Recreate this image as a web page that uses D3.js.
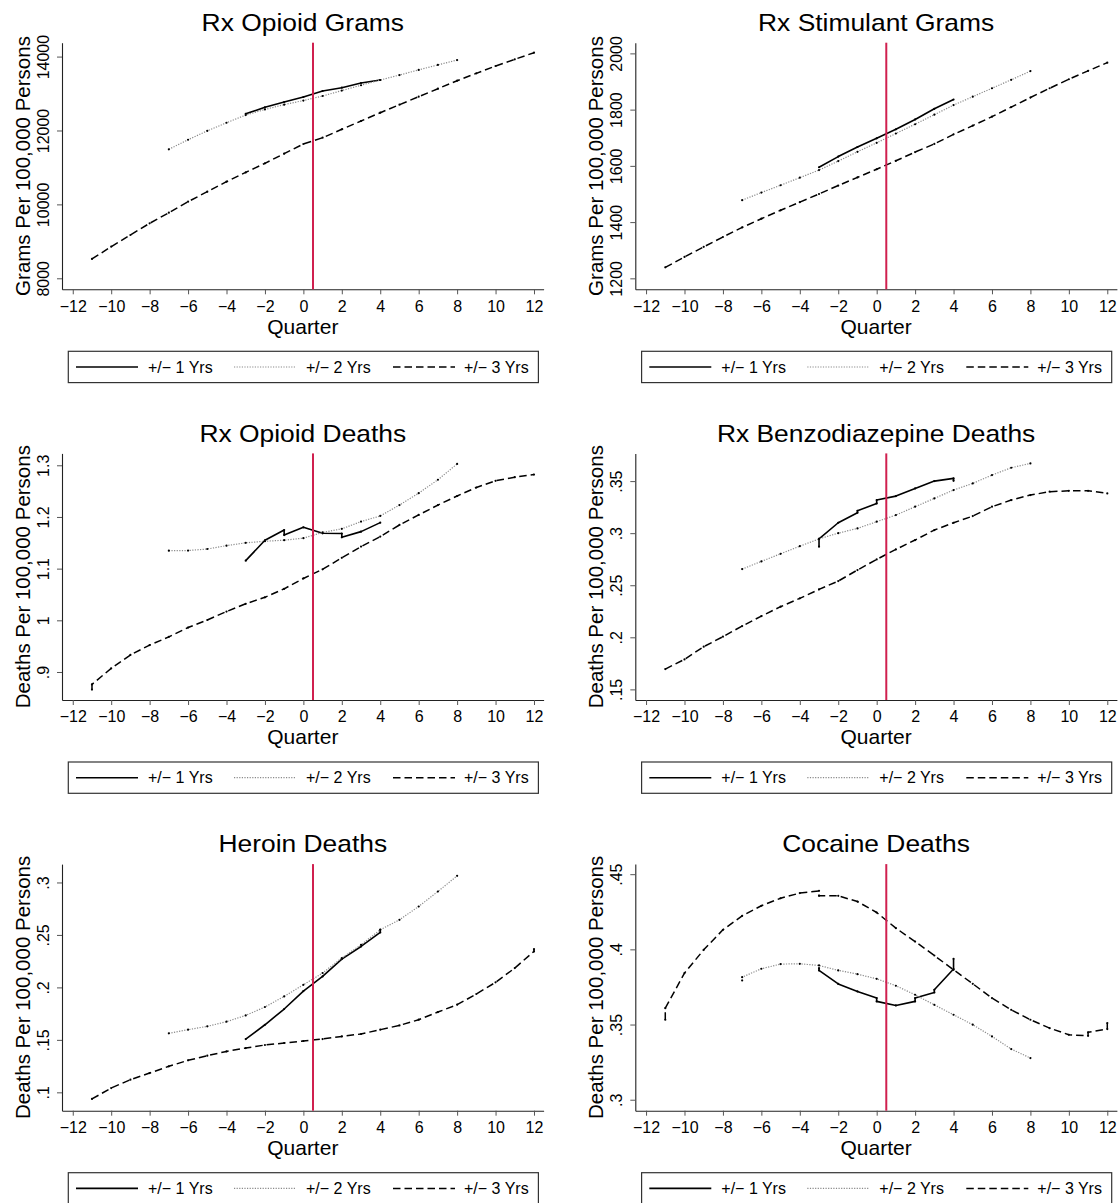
<!DOCTYPE html>
<html>
<head>
<meta charset="utf-8">
<script src="https://cdn.jsdelivr.net/npm/d3@7"></script>
<style>
  html, body { margin: 0; padding: 0; background: #fff; }
  svg { display: block; font-family: "Liberation Sans", Arial, Helvetica, sans-serif; }
</style>
</head>
<body>
<svg id="chart" width="1119" height="1203"></svg>
<script>
// ---------------- DATA ----------------
const quarters1 = [-3, -2, -1, 0, 1, 2, 3, 4];
const quarters2 = [-7, -6, -5, -4, -3, -2, -1, 0, 1, 2, 3, 4, 5, 6, 7, 8];
const quarters3 = [-11, -10, -9, -8, -7, -6, -5, -4, -3, -2, -1, 0, 1, 2, 3, 4, 5, 6, 7, 8, 9, 10, 11, 12];
const xTicks = [-12, -10, -8, -6, -4, -2, 0, 2, 4, 6, 8, 10, 12];
const cutoff = 0.5;

const seriesNames = ["+/\u2212 1 Yrs", "+/\u2212 2 Yrs", "+/\u2212 3 Yrs"];

const panelTitles = ["Rx Opioid Grams", "Rx Stimulant Grams", "Rx Opioid Deaths",
                     "Rx Benzodiazepine Deaths", "Heroin Deaths", "Cocaine Deaths"];
const yTitles = ["Grams Per 100,000 Persons", "Grams Per 100,000 Persons",
                 "Deaths Per 100,000 Persons", "Deaths Per 100,000 Persons",
                 "Deaths Per 100,000 Persons", "Deaths Per 100,000 Persons"];

// y axis ranges (bottom, top of the plotted axis)
const yRanges = [[7702, 14376], [1161, 2038], [0.8458, 1.323],
                 [0.1398, 0.3766], [0.0825, 0.3175], [0.2927, 0.4567]];
const yTickValues = [[8000, 10000, 12000, 14000], [1200, 1400, 1600, 1800, 2000],
                     [0.9, 1, 1.1, 1.2, 1.3], [0.15, 0.2, 0.25, 0.3, 0.35],
                     [0.1, 0.15, 0.2, 0.25, 0.3], [0.3, 0.35, 0.4, 0.45]];
const yTickLabels = [["8000", "10000", "12000", "14000"], ["1200", "1400", "1600", "1800", "2000"],
                     [".9", "1", "1.1", "1.2", "1.3"], [".15", ".2", ".25", ".3", ".35"],
                     [".1", ".15", ".2", ".25", ".3"], [".3", ".35", ".4", ".45"]];

// values per quarter; a pair [a, b] marks a small vertical jump at that quarter
const opioidGrams1 = [12450, 12627, 12771, 12906, 13069, 13158, 13285, 13366];
const opioidGrams2 = [11491, 11750, 11990, 12210, 12418, 12570, 12700, 12810, 12933, 13080, 13225, 13366, 13500, 13640, 13775, 13907];
const opioidGrams3 = [8523, 8855, 9172, 9488, 9775, 10073, 10344, 10614, 10866, 11112, 11372, 11634, 11805, 12032, 12257, 12481, 12698, 12914, 13131, 13347, 13547, 13745, 13926, 14105];

const stimGrams1 = [1595, 1633, 1667, 1698, 1730, 1765, 1803, 1836];
const stimGrams2 = [1478, 1505, 1531, 1558, 1585, 1617, 1650, 1682, 1715, 1748, 1782, 1816, 1846, 1876, 1906, 1937];
const stimGrams3 = [1239, 1276, 1312, 1347, 1381, 1412, 1442, 1471, 1500, 1530, 1559, 1588, 1618, 1649, 1678, 1712, 1743, 1775, 1809, 1843, 1876, 1908, 1938, 1967];

const opioidDeaths1 = [1.1155, 1.1548, [1.1748, 1.165], 1.18, 1.1684, [1.168, 1.1606], 1.1716, 1.189];
const opioidDeaths2 = [1.1348, 1.135, 1.138, 1.1445, 1.150, 1.153, 1.155, 1.159, 1.170, 1.177, 1.191, 1.202, 1.223, 1.246, 1.272, 1.3026];
const opioidDeaths3 = [[0.866, 0.876], 0.907, 0.933, 0.952, 0.968, 0.986, 1.0006, 1.017, 1.032, 1.0445, 1.061, 1.081, 1.0987, 1.121, 1.1426, 1.162, 1.1845, 1.204, 1.223, 1.2406, 1.257, 1.270, 1.277, 1.282];

const benzoDeaths1 = [[0.287, 0.2945], 0.310, [0.3196, 0.3215], [0.3286, 0.3318], 0.3356, 0.343, 0.350, [0.3526, 0.3503]];
const benzoDeaths2 = [0.2655, 0.2729, 0.2802, 0.2875, 0.2945, 0.300, 0.3046, 0.311, 0.3174, 0.3254, 0.3334, 0.3414, 0.3478, 0.3558, 0.3628, 0.367];
const benzoDeaths3 = [0.1695, 0.1788, 0.191, 0.2006, 0.2108, 0.2204, 0.2294, 0.2374, 0.246, 0.254, 0.2646, 0.2748, 0.2844, 0.2934, 0.303, 0.310, 0.3164, 0.3254, 0.3318, 0.3366, 0.3398, 0.3407, 0.3407, 0.3382];

const heroinDeaths1 = [0.1508, 0.1644, 0.1794, 0.1965, 0.2105, 0.227, 0.239, [0.2524, 0.255]];
const heroinDeaths2 = [0.1562, 0.1597, 0.1629, 0.1673, 0.1733, 0.1813, 0.1914, 0.2025, 0.2137, 0.228, 0.2406, 0.2549, 0.2644, 0.2771, 0.2914, 0.3063];
const heroinDeaths3 = [0.0937, 0.1041, 0.1121, 0.1184, 0.1248, 0.1305, 0.1349, 0.139, 0.1422, 0.1451, 0.147, 0.1489, 0.1508, 0.1533, 0.1556, 0.1597, 0.1638, 0.1692, 0.1765, 0.1835, 0.1937, 0.2048, 0.2184, [0.2343, 0.2365]];

const cocaineDeaths1 = [[0.3875, 0.386], 0.377, 0.372, [0.3676, 0.3654], 0.3627, [0.3654, 0.3676], [0.3713, 0.3731], [0.3869, 0.3937]];
const cocaineDeaths2 = [[0.3793, 0.3815], 0.3871, 0.3902, 0.3904, 0.3893, 0.386, 0.3835, 0.3804, 0.3758, 0.3698, 0.3631, 0.3565, 0.3499, 0.3421, 0.3337, 0.3277];
const cocaineDeaths3 = [[0.3532, 0.3609], 0.3842, 0.3997, 0.413, 0.4223, 0.429, 0.434, 0.4374, [0.4389, 0.4356], 0.4356, 0.4318, 0.4245, 0.4141, 0.4052, 0.3959, 0.3864, 0.3771, 0.3676, 0.3598, 0.3532, 0.3476, 0.3432, [0.3425, 0.3448], [0.347, 0.351]];

const panelSeries = [
  [opioidGrams1, opioidGrams2, opioidGrams3],
  [stimGrams1, stimGrams2, stimGrams3],
  [opioidDeaths1, opioidDeaths2, opioidDeaths3],
  [benzoDeaths1, benzoDeaths2, benzoDeaths3],
  [heroinDeaths1, heroinDeaths2, heroinDeaths3],
  [cocaineDeaths1, cocaineDeaths2, cocaineDeaths3]
];
const seriesQuarters = [quarters1, quarters2, quarters3];

// ---------------- LAYOUT / STYLE ----------------
const colW = 573.3, rowH = 410.7;
const plot = { left: 62, right: 543.6, top: 42.7, bottom: 289.3 };
const xDomain = [-12.56, 12.5];
const cx = (plot.left + plot.right) / 2;
const FONT = '"Liberation Sans", Arial, Helvetica, sans-serif';
const styles = [
  { stroke: "#000", width: 1.6, dash: null },
  { stroke: "#8a8a8a", width: 1.2, dash: "1.2,1.4" },
  { stroke: "#000", width: 1.5, dash: "7.5,4" }
];
const redColor = "#d0204f";

const svg = d3.select("#chart");
svg.append("rect").attr("width", 1119).attr("height", 1203).attr("fill", "#fff");

const x = d3.scaleLinear().domain(xDomain).range([plot.left, plot.right]);

function expand(quarters, vals) {
  const pts = [];
  quarters.forEach((q, i) => {
    const v = vals[i];
    if (Array.isArray(v)) { pts.push([q, v[0]]); pts.push([q, v[1]]); }
    else pts.push([q, v]);
  });
  return pts;
}

panelTitles.forEach((title, i) => {
  const c = i % 2, r = Math.floor(i / 2);
  const g = svg.append("g").attr("transform", `translate(${c * colW},${r * rowH})`);
  const y = d3.scaleLinear().domain(yRanges[i]).range([plot.bottom, plot.top]);

  // title
  g.append("text")
    .attr("transform", `translate(${cx},31) scale(1.1,1)`)
    .attr("text-anchor", "middle").attr("font-size", 24).attr("fill", "#000")
    .text(title);

  // x axis
  const xa = g.append("g").attr("transform", `translate(0,${plot.bottom})`)
    .call(d3.axisBottom(x).tickValues(xTicks).tickSize(5).tickSizeOuter(0)
      .tickFormat(d => d < 0 ? "\u2212" + Math.abs(d) : String(d)));
  xa.select(".domain").attr("stroke", "#222").attr("stroke-width", 1.1);
  xa.selectAll(".tick line").attr("stroke", "#555");
  xa.selectAll(".tick text").attr("y", 22.3).attr("dy", null)
    .attr("font-size", 16).attr("font-family", FONT).attr("fill", "#000");

  // y axis
  const labels = yTickLabels[i];
  const ya = g.append("g").attr("transform", `translate(${plot.left},0)`)
    .call(d3.axisLeft(y).tickValues(yTickValues[i]).tickSize(5).tickSizeOuter(0)
      .tickFormat((d, k) => labels[k]));
  ya.select(".domain").attr("stroke", "#222").attr("stroke-width", 1.1);
  ya.selectAll(".tick line").attr("stroke", "#555");
  ya.selectAll(".tick text").attr("x", null).attr("dy", null)
    .attr("text-anchor", "middle").attr("transform", "translate(-13.5,0) rotate(-90)")
    .attr("font-size", 16).attr("font-family", FONT).attr("fill", "#000");

  // axis titles
  g.append("text").attr("x", cx).attr("y", 333.5).attr("text-anchor", "middle")
    .attr("font-size", 21).attr("fill", "#000").text("Quarter");
  g.append("text").attr("transform", `translate(29.5,${(plot.top + plot.bottom) / 2}) rotate(-90)`)
    .attr("text-anchor", "middle").attr("font-size", 20.5).attr("fill", "#000").text(yTitles[i]);

  // series
  const line = d3.line().x(d => x(d[0])).y(d => y(d[1]));
  panelSeries[i].forEach((vals, s) => {
    const pts = expand(seriesQuarters[s], vals);
    const st = styles[s];
    g.append("path").attr("d", line(pts)).attr("fill", "none")
      .attr("stroke", st.stroke).attr("stroke-width", st.width)
      .attr("stroke-dasharray", st.dash).attr("stroke-linejoin", "round");
    g.append("g").selectAll("circle").data(pts).join("circle")
      .attr("cx", d => x(d[0])).attr("cy", d => y(d[1])).attr("r", 1.1).attr("fill", "#000");
  });

  // cutoff line
  g.append("line").attr("x1", x(cutoff)).attr("x2", x(cutoff))
    .attr("y1", plot.top).attr("y2", plot.bottom)
    .attr("stroke", redColor).attr("stroke-width", 2);

  // legend
  const lg = g.append("g");
  lg.append("rect").attr("x", 68.3).attr("y", 351.3).attr("width", 470.1).attr("height", 31.3)
    .attr("fill", "#fff").attr("stroke", "#333").attr("stroke-width", 1.2);
  const legX = [[76, 138], [234, 296], [393, 455]];
  const legTextX = [148, 306, 464];
  seriesNames.forEach((name, s) => {
    const st = styles[s];
    lg.append("line").attr("x1", legX[s][0]).attr("x2", legX[s][1]).attr("y1", 367).attr("y2", 367)
      .attr("stroke", st.stroke).attr("stroke-width", st.width).attr("stroke-dasharray", st.dash);
    lg.append("text").attr("x", legTextX[s]).attr("y", 372.5).attr("font-size", 16)
      .attr("fill", "#000").text(name);
  });
});
</script>
</body>
</html>
